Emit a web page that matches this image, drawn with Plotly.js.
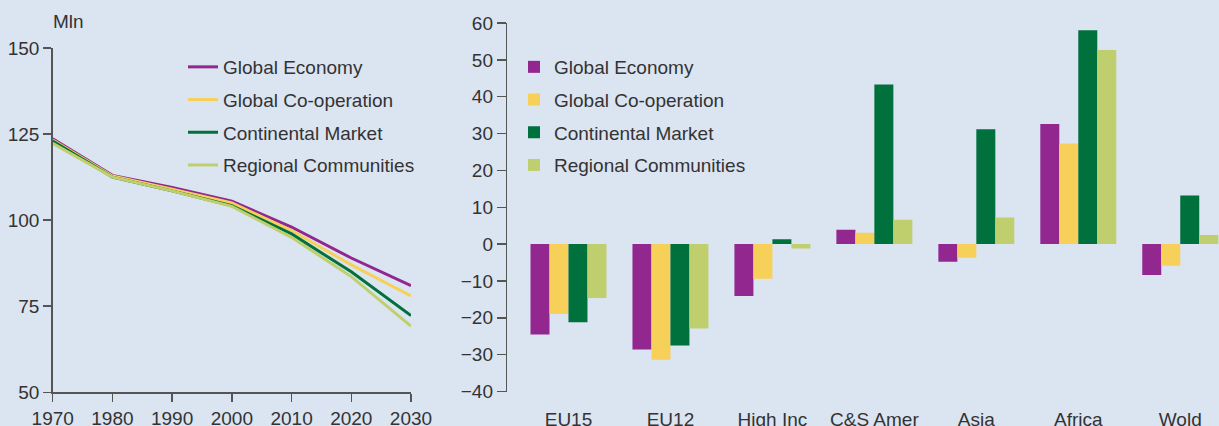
<!DOCTYPE html>
<html>
<head>
<meta charset="utf-8">
<script src="https://cdn.plot.ly/plotly-3.0.1.min.js"></script>
<style>
  html, body { margin: 0; padding: 0; background: #dbe4f1; }
  #chart { width: 1219px; height: 426px; }
</style>
</head>
<body>
<div id="chart"></div>
<script>
// ---- Data ----
const years = [1970, 1980, 1990, 2000, 2010, 2020, 2030];
const scenarioNames = ["Global Economy", "Global Co-operation", "Continental Market", "Regional Communities"];
const globalEconomyLine = [123.6, 113.0, 109.5, 105.5, 98.0, 89.0, 81.0];
const globalCooperationLine = [123.3, 112.8, 109.0, 105.0, 97.0, 87.0, 78.0];
const continentalMarketLine = [123.0, 112.5, 108.5, 104.2, 96.0, 85.0, 72.3];
const regionalCommunitiesLine = [122.3, 112.5, 108.5, 104.0, 95.0, 83.6, 69.2];

const regions = ["EU15", "EU12", "High Inc", "C&S Amer", "Asia", "Africa", "Wold"];
const globalEconomyBars = [-24.5, -28.6, -14.1, 3.9, -4.8, 32.6, -8.4];
const globalCooperationBars = [-19.0, -31.4, -9.4, 3.1, -3.7, 27.3, -5.9];
const continentalMarketBars = [-21.2, -27.5, 1.3, 43.3, 31.2, 58.0, 13.2];
const regionalCommunitiesBars = [-14.6, -22.9, -1.2, 6.6, 7.2, 52.7, 2.5];

const colors = ["#92278f", "#f7d05a", "#00703c", "#c0cf6e"];

// ---- Layout geometry ----
const W = 1219, H = 426;
const px = v => v / W;
const py = v => 1 - v / H;
const FONT = "Liberation Sans, Arial, Helvetica, sans-serif";
const TXT = "#333333";
const FS = 19;

const lineSeries = [globalEconomyLine, globalCooperationLine, continentalMarketLine, regionalCommunitiesLine];
const barSeries = [globalEconomyBars, globalCooperationBars, continentalMarketBars, regionalCommunitiesBars];

const traces = [];
lineSeries.forEach((vals, i) => {
  traces.push({
    type: "scatter", mode: "lines", x: years, y: vals, name: scenarioNames[i],
    line: { color: colors[i], width: 3 }, xaxis: "x", yaxis: "y", legend: "legend",
    legendgroup: "l" + i
  });
});
barSeries.forEach((vals, i) => {
  traces.push({
    type: "bar", x: regions.map((r, k) => k), y: vals, name: scenarioNames[i],
    marker: { color: colors[i], line: { width: 0 } }, xaxis: "x2", yaxis: "y2", legend: "legend2",
    legendgroup: "b" + i
  });
});

const rightYTop = 23, rightYBottom = 391.5;
const yr = [-40, 60];
const zeroFrac = py(rightYBottom) + (0 - yr[0]) / (yr[1] - yr[0]) * (py(rightYTop) - py(rightYBottom));
const xr2 = [-0.6, 6.38];

const axisBase = {
  showgrid: false, zeroline: false, showline: true, linecolor: "#555555", linewidth: 1.5,
  ticks: "outside", ticklen: 8, tickwidth: 1.5, tickcolor: "#555555",
  tickfont: { family: FONT, size: FS, color: TXT }
};

const layout = {
  width: W, height: H,
  paper_bgcolor: "#dbe4f1", plot_bgcolor: "rgba(0,0,0,0)",
  margin: { l: 0, r: 0, t: 0, b: 0 },
  font: { family: FONT, size: FS, color: TXT },
  showlegend: true,
  barmode: "group", bargap: 0.255, bargroupgap: 0,
  xaxis: Object.assign({}, axisBase, {
    domain: [px(52.7), px(411)], range: [1970, 2030], tick0: 1970, dtick: 10, anchor: "y"
  }),
  yaxis: Object.assign({}, axisBase, {
    domain: [py(392.3), py(48)], range: [50, 150], tick0: 50, dtick: 25, anchor: "x"
  }),
  xaxis2: Object.assign({}, axisBase, {
    domain: [px(507.3), 1], range: xr2, anchor: "y2", showline: false,
    tickmode: "array", tickvals: regions.map((r, k) => k), ticktext: regions,
    ticklen: 11, tickcolor: "rgba(0,0,0,0)"
  }),
  xaxis3: Object.assign({}, axisBase, {
    overlaying: "x2", anchor: "free", position: zeroFrac, range: xr2,
    linecolor: "#6d6d6d", linewidth: 2, tickcolor: "#6d6d6d", ticklen: 9, tickwidth: 1.5,
    tickmode: "array", tickvals: regions.slice(1).map((r, k) => k + 0.5), showticklabels: false
  }),
  yaxis2: Object.assign({}, axisBase, {
    domain: [py(rightYBottom), py(rightYTop)], range: yr, tick0: 0, dtick: 10, anchor: "x2",
    ticklen: 9
  }),
  legend: {
    x: px(183), y: py(48), xanchor: "left", yanchor: "top",
    bgcolor: "rgba(0,0,0,0)", font: { family: FONT, size: FS, color: TXT },
    tracegroupgap: 5, itemwidth: 30
  },
  legend2: {
    x: px(514), y: py(48), xanchor: "left", yanchor: "top",
    bgcolor: "rgba(0,0,0,0)", font: { family: FONT, size: FS, color: TXT },
    tracegroupgap: 5, itemwidth: 30
  },
  annotations: [{
    text: "Mln", xref: "paper", yref: "paper", x: px(51), y: py(22),
    xanchor: "left", yanchor: "middle", showarrow: false,
    font: { family: FONT, size: FS, color: TXT }
  }]
};

Plotly.newPlot("chart", traces, layout, { displayModeBar: false, staticPlot: true });
</script>
</body>
</html>
